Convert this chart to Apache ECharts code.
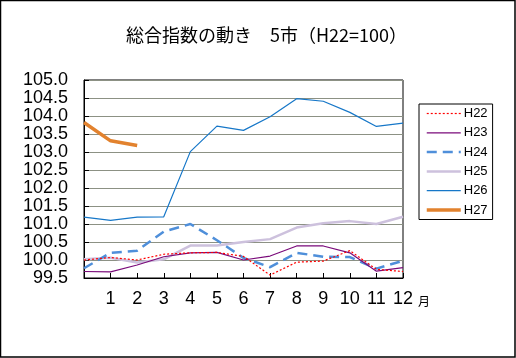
<!DOCTYPE html>
<html><head><meta charset="utf-8">
<script src="https://cdn.jsdelivr.net/npm/echarts@6/dist/echarts.min.js"></script>
<style>html,body{margin:0;padding:0;background:#fff}#c{width:516px;height:358px}</style>
</head><body><div id="c"></div>
<script>
const months = ['', '1', '2', '3', '4', '5', '6', '7', '8', '9', '10', '11', '12'];
const seriesNames = ['H22', 'H23', 'H24', 'H25', 'H26', 'H27'];
const h22 = [100.0, 100.07, 100.0, 100.16, 100.2, 100.21, 100.1, 99.58, 99.94, 99.97, 100.26, 99.74, 99.68];
const h23 = [99.68, 99.67, 99.86, 100.09, 100.2, 100.21, 100.0, 100.11, 100.39, 100.39, 100.2, 99.69, 99.79];
const h24 = [99.77, 100.2, 100.26, 100.79, 101.0, 100.55, 100.06, 99.8, 100.2, 100.09, 100.08, 99.76, 99.98];
const h25 = [100.02, 100.06, 99.93, 100.02, 100.4, 100.4, 100.5, 100.58, 100.9, 101.02, 101.08, 101.0, 101.2];
const h26 = [101.19, 101.1, 101.19, 101.2, 103.01, 103.72, 103.6, 103.98, 104.48, 104.41, 104.1, 103.71, 103.8];
const h27 = [103.82, 103.31, 103.18];
const yTicks = [99.5, 105.0, 0.5];

const styles = [
  {color: '#FF0000', width: 1.2, type: [2, 2]},
  {color: '#7A0A7A', width: 1.2, type: 'solid'},
  {color: '#4F8FDA', width: 2.5, type: [10, 6]},
  {color: '#CDC1DD', width: 2.5, type: 'solid'},
  {color: '#1677C8', width: 1.2, type: 'solid'},
  {color: '#E2822E', width: 3.5, type: 'solid'}
];
const datas = [h22, h23, h24, h25, h26, h27];
const font = "'Liberation Sans Narrow', 'Liberation Sans', sans-serif";

const chart = echarts.init(document.getElementById('c'));
chart.setOption({
  animation: false,
  title: {
    text: '総合指数の動き　5市（H22=100）',
    left: 121, top: 21,
    textStyle: {fontFamily: "'Noto Sans CJK JP', sans-serif", fontSize: 18, fontWeight: 'normal', color: '#000'}
  },
  grid: {left: 84, right: 113, top: 80, bottom: 80, show: true, borderColor: '#000', borderWidth: 1},
  legend: {
    orient: 'vertical', left: 419, top: 104,
    data: seriesNames.map((n, i) => ({name: n, lineStyle: {color: styles[i].color, width: styles[i].width, type: styles[i].type}})),
    itemWidth: 34, itemHeight: 14, itemGap: 6.3,
    padding: [3, 5, 3, 6],
    borderColor: '#000', borderWidth: 1,
    itemStyle: {opacity: 0},
    textStyle: {fontFamily: font, fontSize: 13, color: '#000', padding: [0, 0, 0, -2]}
  },
  xAxis: {
    type: 'category', data: months, boundaryGap: false,
    axisLine: {lineStyle: {color: '#000'}},
    axisTick: {inside: true, length: 5, lineStyle: {color: '#000'}},
    axisLabel: {fontFamily: font, fontSize: 18, color: '#000', margin: 12, interval: 0},
    splitLine: {show: false}
  },
  yAxis: {
    type: 'value', min: yTicks[0], max: yTicks[1], interval: yTicks[2],
    axisLine: {show: true, lineStyle: {color: '#000'}},
    axisTick: {show: true, inside: true, length: 5, lineStyle: {color: '#000'}},
    axisLabel: {fontFamily: font, fontSize: 18, color: '#000', margin: 16, formatter: v => v.toFixed(1)},
    splitLine: {lineStyle: {color: '#8C9184', width: 1}}
  },
  series: datas.map((d, i) => ({
    name: seriesNames[i], type: 'line', data: d, symbol: 'none',
    lineStyle: styles[i], itemStyle: {color: styles[i].color}, z: 10 - i
  })),
  graphic: [
    {type: 'rect', shape: {x: 0.5, y: 0.5, width: 514.5, height: 356.5}, style: {fill: 'none', stroke: '#000', lineWidth: 1.5}, silent: true},
    {type: 'text', left: 418, top: 295, style: {text: '月', fontFamily: "'Noto Sans CJK JP', sans-serif", fontSize: 12, fill: '#000'}}
  ]
});
</script></body></html>
